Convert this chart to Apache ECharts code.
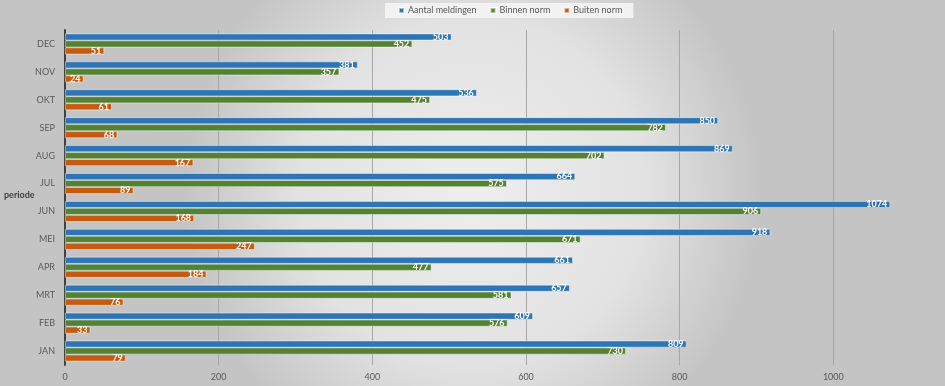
<!DOCTYPE html>
<html><head><meta charset="utf-8">
<script src="https://cdn.jsdelivr.net/npm/echarts@6/dist/echarts.min.js"></script>
<style>html,body{margin:0;padding:0;}#c{width:945px;height:386px;}</style>
</head><body><div id="c"></div>
<script>
const months = ['JAN','FEB','MRT','APR','MEI','JUN','JUL','AUG','SEP','OKT','NOV','DEC'];
const aantal = [809,609,657,661,918,1074,664,869,850,536,381,503];
const binnen = [730,576,581,477,671,906,575,702,782,475,357,452];
const buiten = [79,33,76,184,247,168,89,167,68,61,24,51];
const xTicks = [0,200,400,600,800,1000];
const yTitle = 'periode';

const chart = echarts.init(document.getElementById('c'));
const lbl = {show:true, position:'insideRight', color:'#fff', fontWeight:'bold', fontSize:9, fontFamily:'Lato', distance:3};
const border = {borderColor:'rgba(255,255,255,0.55)', borderWidth:0.8};
chart.setOption({
  backgroundColor:{type:'radial', x:0.5, y:0.5, r:0.75, colorStops:[{offset:0,color:'#eeeeee'},{offset:0.6,color:'#e2e2e2'},{offset:1,color:'#c4c4c4'}]},
  animation:false,
  graphic:[{type:'text', left:4, top:191, style:{text:yTitle, fontWeight:'bold', fontSize:9, fill:'#404040', fontFamily:'Lato'}}],
  legend:{top:3, left:385, itemWidth:5, itemHeight:5, itemGap:13, icon:'rect',
    backgroundColor:'#f2f2f2', padding:[3,11,3,13],
    textStyle:{fontSize:9, color:'#595959', fontFamily:'Lato', padding:[0,0,0,-1]},
    data:['Aantal meldingen','Binnen norm','Buiten norm']},
  grid:{left:65, right:-42, top:30, bottom:21, outerBoundsMode:'none', containLabel:false},
  xAxis:{type:'value', min:0, max:1200, interval:200,
    axisLine:{show:false}, axisTick:{show:false},
    axisLabel:{color:'#595959', fontSize:9, fontFamily:'Lato', margin:8,
      formatter:v => xTicks.includes(v) ? String(v) : ''},
    splitLine:{lineStyle:{color:'#a6a6a6', width:1}}},
  yAxis:{type:'category', data:months,
    axisLine:{lineStyle:{color:'#404040', width:2}}, axisTick:{show:false},
    axisLabel:{color:'#595959', fontSize:9, fontFamily:'Lato', margin:10}},
  series:[
    {name:'Aantal meldingen', type:'bar', data:aantal, itemStyle:Object.assign({color:'#2e75b6'},border), label:lbl, barGap:'0%', barCategoryGap:'25%'},
    {name:'Binnen norm', type:'bar', data:binnen, itemStyle:Object.assign({color:'#548235'},border), label:lbl, barGap:'0%', barCategoryGap:'25%'},
    {name:'Buiten norm', type:'bar', data:buiten, itemStyle:Object.assign({color:'#c55a11'},border), label:lbl, barGap:'0%', barCategoryGap:'25%'}
  ]
});
</script></body></html>
